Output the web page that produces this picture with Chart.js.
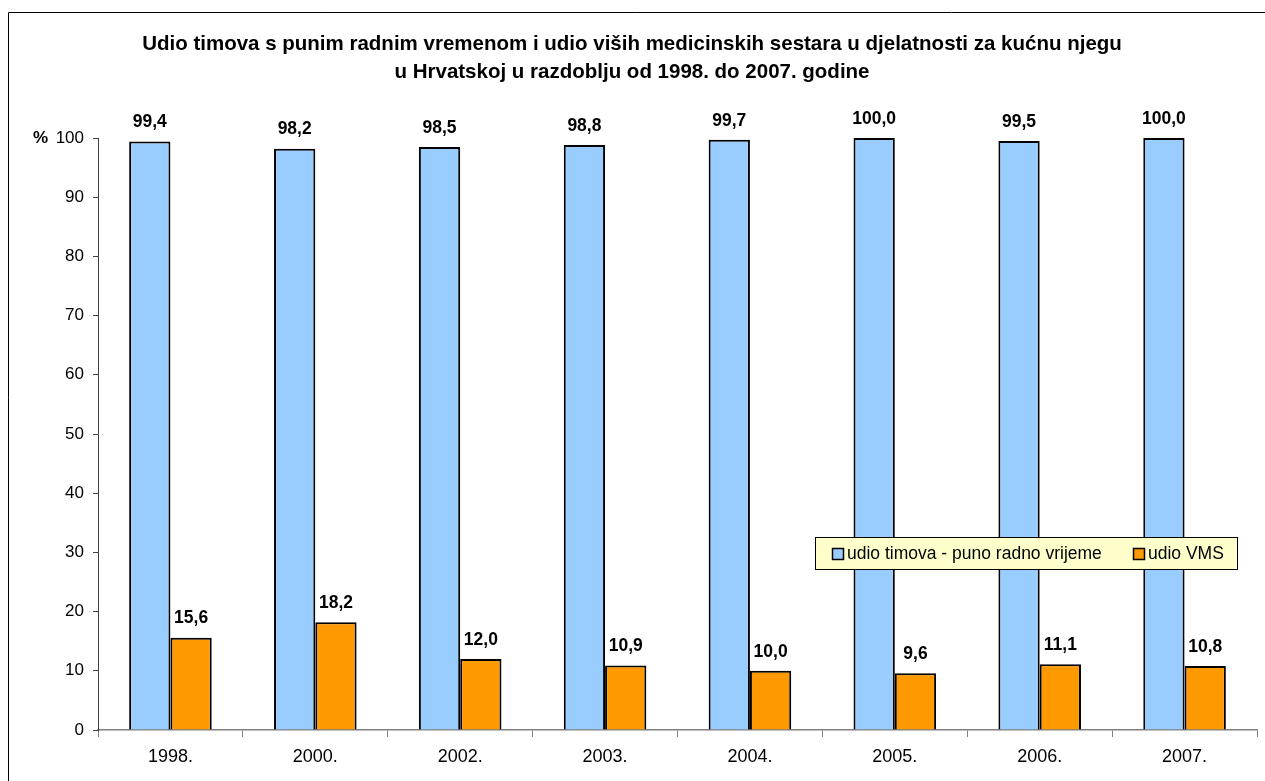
<!DOCTYPE html>
<html>
<head>
  <title>Udio timova</title>
  <script src="https://cdn.jsdelivr.net/npm/chart.js@4.4.0/dist/chart.umd.min.js"></script>
  <style>
    html, body { margin: 0; padding: 0; background: #fff; }
    #wrap { width: 1265px; height: 781px; }
  </style>
</head>
<body>
  <div id="wrap"><canvas id="homeCareChart" width="1265" height="781"></canvas></div>

  <script>
    // chart data
    const years = ['1998.', '2000.', '2002.', '2003.', '2004.', '2005.', '2006.', '2007.'];
    const fullTimeShare = [99.4, 98.2, 98.5, 98.8, 99.7, 100.0, 99.5, 100.0];
    const vmsShare = [15.6, 18.2, 12.0, 10.9, 10.0, 9.6, 11.1, 10.8];
    const seriesNames = ['udio timova - puno radno vrijeme', 'udio VMS'];
    const titleLines = [
      'Udio timova s punim radnim vremenom i udio viših medicinskih sestara u djelatnosti za kućnu njegu',
      'u Hrvatskoj u razdoblju od 1998. do 2007. godine'
    ];

    const FONT = '"Liberation Sans", Arial, sans-serif';

    // title, frame, % sign, value labels and the legend box
    const decorations = {
      id: 'decorations',
      afterDraw(chart) {
        const ctx = chart.ctx;
        const yScale = chart.scales.y;
        ctx.save();

        // frame (only top and left edges are in view)
        ctx.strokeStyle = '#000';
        ctx.lineWidth = 1;
        ctx.beginPath();
        ctx.moveTo(8.5, 790);
        ctx.lineTo(8.5, 12.5);
        ctx.lineTo(1270, 12.5);
        ctx.stroke();

        // title
        ctx.fillStyle = '#000';
        ctx.font = 'bold 20.5px ' + FONT;
        ctx.textAlign = 'center';
        ctx.textBaseline = 'middle';
        ctx.fillText(titleLines[0], 632, 44);
        ctx.fillText(titleLines[1], 632, 72);

        // % sign next to top tick
        ctx.font = 'bold 17px ' + FONT;
        ctx.textAlign = 'left';
        ctx.fillText('%', 33, yScale.getPixelForValue(100));

        // value labels
        ctx.font = 'bold 17.5px ' + FONT;
        ctx.textAlign = 'center';
        chart.data.datasets.forEach((ds, i) => {
          const meta = chart.getDatasetMeta(i);
          meta.data.forEach((bar, j) => {
            ctx.fillText(ds.data[j].toFixed(1).replace('.', ','), bar.x, bar.y - 19);
          });
        });

        // legend box
        const lx = 815.5, ly = 537.5, lw = 422, lh = 32;
        ctx.fillStyle = '#FFFFCC';
        ctx.fillRect(lx, ly, lw, lh);
        ctx.strokeStyle = '#000';
        ctx.lineWidth = 1;
        ctx.strokeRect(lx, ly, lw, lh);
        ctx.font = '17.5px ' + FONT;
        ctx.textAlign = 'left';
        const itemX = [832, 1133];
        chart.data.datasets.forEach((ds, i) => {
          const x = itemX[i];
          ctx.fillStyle = ds.backgroundColor;
          ctx.fillRect(x + 0.5, 548.5, 11, 11);
          ctx.strokeStyle = '#000';
          ctx.lineWidth = 1.5;
          ctx.strokeRect(x + 0.5, 548.5, 11, 11);
          ctx.fillStyle = '#000';
          ctx.fillText(ds.label, x + 15, 554);
        });
        ctx.restore();
      }
    };

    const ctx = document.getElementById('homeCareChart').getContext('2d');
    new Chart(ctx, {
      type: 'bar',
      data: {
        labels: years,
        datasets: [{
          label: seriesNames[0],
          data: fullTimeShare,
          backgroundColor: '#99CCFF',
          borderColor: '#000',
          borderWidth: 2
        }, {
          label: seriesNames[1],
          data: vmsShare,
          backgroundColor: '#FF9900',
          borderColor: '#000',
          borderWidth: 2
        }]
      },
      options: {
        responsive: false,
        animation: false,
        devicePixelRatio: 1,
        layout: { padding: { left: 8, top: 138, right: 8, bottom: 0 } },
        datasets: {
          bar: { categoryPercentage: 0.57, barPercentage: 1.0 }
        },
        plugins: {
          legend: { display: false },
          title: { display: false },
          tooltip: { enabled: false }
        },
        scales: {
          x: {
            afterFit(scale) { scale.height = 51; },
            grid: { drawOnChartArea: false, tickLength: 7, color: '#808080', offset: true },
            border: { color: '#808080', width: 1.5 },
            ticks: { color: '#000', font: { family: FONT, size: 18 }, padding: 9 }
          },
          y: {
            min: 0,
            max: 100,
            afterFit(scale) { scale.width = 90; },
            grid: { drawOnChartArea: false, tickLength: 5, color: '#404040' },
            border: { color: '#404040', width: 1 },
            ticks: { stepSize: 10, color: '#000', font: { family: FONT, size: 17 }, padding: 9 }
          }
        }
      },
      plugins: [decorations]
    });
  </script>
</body>
</html>
